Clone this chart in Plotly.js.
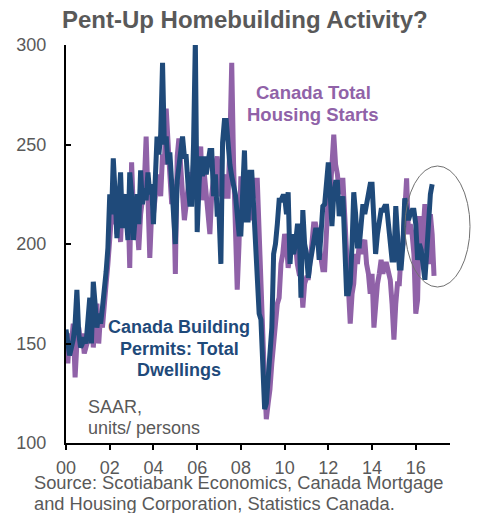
<!DOCTYPE html>
<html>
<head>
<meta charset="utf-8">
<script src="https://cdn.plot.ly/plotly-3.0.1.min.js"></script>
<style>html,body{margin:0;padding:0;background:#fff;}#chart{width:481px;height:513px;}</style>
</head>
<body>
<div id="chart"></div>
<script>
// Monthly values, SAAR (thousands of units), starting January 2000
var startYear = 2000;
var permitsValues = [
  157,150,144,148,152,160,177,155,148,150,153,150, // 2000
  160,173,150,181,170,158,165,160,168,175,186,198, // 2001
  225,215,243,225,203,220,236,208,225,215,202,236, // 2002
  225,202,215,225,210,237,220,228,222,236,225,230, // 2003
  210,235,254,245,255,291,250,254,240,246,230,215, // 2004
  200,232,240,250,254,244,244,230,220,220,250,302, // 2005
  206,230,244,234,244,235,240,247,247,224,235,215, // 2006
  215,190,251,262,262,247,240,234,230,225,215,205, // 2007
  205,225,247,212,212,236,236,219,200,178,165,162, // 2008
  140,117,120,135,150,158,195,200,210,222,222,224, // 2009
  224,215,226,190,205,195,200,209,209,173,217,200, // 2010
  195,183,190,195,200,207,207,192,205,219,220,230, // 2011
  241,225,209,225,231,231,214,220,224,200,175,175, // 2012
  180,200,226,215,199,199,210,220,215,220,225,230, // 2013
  230,215,195,205,210,217,217,219,219,210,200,192, // 2014
  192,219,205,188,188,200,223,215,212,215,217,217, // 2015
  210,192,200,197,190,182,195,215,225,230          // 2016
];
var startsValues = [
  150,140,155,150,160,133,150,158,150,155,145,148, // 2000
  150,155,165,148,160,170,150,165,158,172,180,190, // 2001
  205,215,210,228,205,215,201,225,220,212,222,188, // 2002
  241,215,225,205,197,215,225,230,254,217,193,215, // 2003
  215,224,235,230,224,245,240,268,247,235,220,230, // 2004
  185,244,253,235,225,212,222,230,236,228,240,225, // 2005
  240,235,249,222,235,225,215,205,225,235,240,244, // 2006
  235,224,228,235,224,224,250,291,240,210,177,200, // 2007
  234,220,215,212,225,212,220,225,232,232,200,175, // 2008
  155,130,112,120,127,140,150,160,170,173,190,195, // 2009
  205,200,188,195,200,195,200,190,185,185,168,180, // 2010
  183,183,195,200,210,210,205,200,195,187,187,210, // 2011
  225,225,240,255,240,235,225,232,232,215,200,185, // 2012
  160,175,180,195,190,200,195,200,202,190,185,175, // 2013
  185,158,170,180,185,192,185,190,190,185,182,170, // 2014
  152,170,180,180,195,200,215,233,205,210,205,195, // 2015
  165,172,214,194,205,220,197,190,215,205,184      // 2016
];
var tickYears = ['00','02','04','06','08','10','12','14','16'];
var startsLines = ['Canada Total', 'Housing Starts'];
var permitsLines = ['Canada Building', 'Permits: Total', 'Dwellings'];
var unitsLines = ['SAAR,', 'units/ persons'];
var sourceLines = ['Source: Scotiabank Economics, Canada Mortgage', 'and Housing Corporation, Statistics Canada.'];
var titleText = 'Pent-Up Homebuilding Activity?';

function monthDates(n) {
  var out = [];
  for (var i = 0; i < n; i++) {
    var y = startYear + Math.floor(i / 12);
    var m = (i % 12) + 1;
    out.push(y + '-' + (m < 10 ? '0' : '') + m + '-01');
  }
  return out;
}
var tickVals = tickYears.map(function (t) { return '20' + t + '-01-01'; });

var BLUE = '#1f4a7a';
var PURPLE = '#9062a8';
var GREY = '#595959';
var FONT = 'Liberation Sans, Arial, sans-serif';

// plot area in pixels: left 66, right 450, top 45, bottom 443
function px(x) { return (x - 66) / 384; }
function py(y) { return (443 - y) / 398; }

var annotations = [];
function addLines(lines, cx, firstY, step, anchor, size, color, bold) {
  lines.forEach(function (t, i) {
    annotations.push({
      text: bold ? '<b>' + t + '</b>' : t, xref: 'paper', yref: 'paper',
      x: px(cx), y: py(firstY + i * step), xanchor: anchor, yanchor: 'middle',
      showarrow: false, font: {family: FONT, size: size, color: color}
    });
  });
}
addLines(startsLines, 313, 93, 21, 'center', 18.5, PURPLE, true);
addLines(permitsLines, 179, 327, 21.5, 'center', 18, BLUE, true);
addLines(unitsLines, 86, 407, 20.5, 'left', 18, GREY, false);
addLines(sourceLines, 32, 482, 21, 'left', 18.3, GREY, false);

var traces = [
  {x: monthDates(startsValues.length), y: startsValues, type: 'scatter', mode: 'lines',
   line: {color: PURPLE, width: 5}, hoverinfo: 'skip', name: 'Starts'},
  {x: monthDates(permitsValues.length), y: permitsValues, type: 'scatter', mode: 'lines',
   line: {color: BLUE, width: 5}, hoverinfo: 'skip', name: 'Permits'}
];

var layout = {
  width: 481, height: 513,
  margin: {l: 66, r: 31, t: 45, b: 70},
  paper_bgcolor: '#fff', plot_bgcolor: '#fff',
  showlegend: false,
  font: {family: FONT, color: GREY, size: 18},
  title: {text: '<b>' + titleText + '</b>', xref: 'container', yref: 'container',
          x: 0.509, y: 0.961, xanchor: 'center', yanchor: 'middle',
          font: {family: FONT, size: 24, color: GREY}},
  xaxis: {
    type: 'date', range: ['2000-01-01', '2017-07-26'],
    tickvals: tickVals, ticktext: tickYears,
    ticks: 'outside', ticklen: 5, tickwidth: 2, tickcolor: '#000',
    showline: true, linecolor: '#000', linewidth: 2,
    showgrid: false, zeroline: false,
    tickfont: {family: FONT, size: 18, color: GREY},
    ticklabelstandoff: 2
  },
  yaxis: {
    range: [100, 300], dtick: 50, tick0: 100,
    ticks: 'inside', ticklen: 5, tickwidth: 2, tickcolor: '#000',
    showline: true, linecolor: '#000', linewidth: 2,
    showgrid: false, zeroline: false,
    tickfont: {family: FONT, size: 18, color: GREY},
    ticklabelstandoff: 14
  },
  annotations: annotations,
  shapes: [
    {type: 'circle', xref: 'paper', yref: 'paper',
     x0: px(405), x1: px(470), y0: py(287), y1: py(166),
     line: {color: '#707070', width: 1}}
  ]
};

Plotly.newPlot('chart', traces, layout, {displayModeBar: false, staticPlot: true});
</script>
</body>
</html>
